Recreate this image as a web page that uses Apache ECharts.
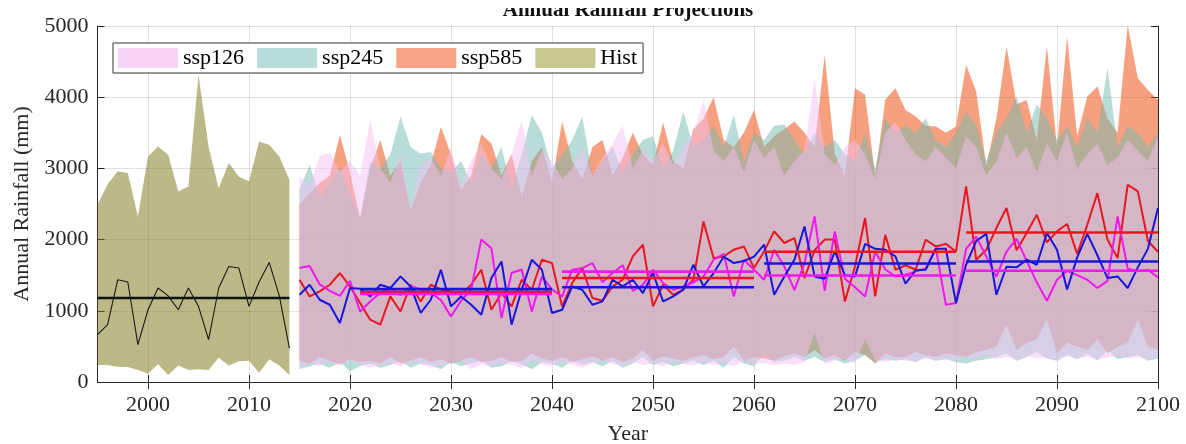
<!DOCTYPE html>
<html><head><meta charset="utf-8">
<script src="https://cdn.jsdelivr.net/npm/echarts@6/dist/echarts.min.js"></script>
<style>html,body{margin:0;padding:0;background:#fff}#c{width:1186px;height:444px}</style>
</head><body><div id="c"></div>
<script>
// ---------------- DATA ----------------
const HIST_START = 1995, HIST_END = 2014;
const FUT_START = 2015, FUT_END = 2100;
const xTickValues = [2000, 2010, 2020, 2030, 2040, 2050, 2060, 2070, 2080, 2090, 2100];
const legendNames = ['ssp126', 'ssp245', 'ssp585', 'Hist'];

// historical (1995-2014)
const histLine = [664, 805, 1436, 1405, 524, 1015, 1320, 1210, 1015, 1320, 1062, 594, 1320, 1623, 1600, 1062, 1405, 1680, 1210, 477];
const histMax  = [2490, 2777, 2960, 2937, 2325, 3167, 3308, 3190, 2676, 2746, 4314, 3300, 2720, 3075, 2881, 2818, 3378, 3332, 3167, 2840];
const histMin  = [240, 240, 215, 210, 170, 120, 250, 100, 230, 170, 180, 170, 340, 230, 290, 300, 130, 320, 230, 100];
const histMean = 1180;

// projections (2015-2100)
const ssp585Line = [
  1436, 1202, 1272, 1366, 1530, 1342, 1110, 875, 805, 1202,
  991, 1366, 1132, 1366, 1300, 1272, 1225, 1366, 1577, 1015,
  1250, 1062, 1436, 1296, 1717, 1670, 1062, 1390, 1600, 1179,
  1142, 1342, 1436, 1764, 1928, 1062, 1366, 1225, 1300, 1436,
  2255, 1740, 1764, 1857, 1904, 1600, 1834, 2115, 1952, 2022,
  1460, 1850, 2000, 2000, 1132, 1623, 2303, 1202, 2068, 1577,
  1640, 1577, 1998, 1904, 1940, 1830, 2746, 1717, 1857, 2162,
  2443, 1850, 2092, 2349, 1960, 2115, 2220, 1800, 2209, 2653,
  2000, 1740, 2770, 2677, 1980, 1830];
const ssp245Line = [
  1225, 1366, 1155, 1085, 828, 1320, 1310, 1200, 1366, 1320,
  1483, 1342, 969, 1155, 1577, 1062, 1202, 1085, 945, 1460,
  1693, 805, 1296, 1717, 1577, 969, 1015, 1342, 1296, 1085,
  1132, 1436, 1342, 1436, 1249, 1530, 1132, 1202, 1296, 1647,
  1342, 1530, 1760, 1670, 1700, 1760, 1928, 1225, 1483, 1717,
  2185, 1483, 1450, 1834, 1500, 1483, 1940, 1870, 1857, 1764,
  1380, 1570, 1577, 1870, 1870, 1109, 1650, 1980, 2080, 1225,
  1620, 1610, 1717, 1647, 2092, 1857, 1300, 1750, 2080, 1780,
  1460, 1483, 1320, 1610, 1870, 2443];
const ssp126Line = [
  1600, 1630, 1370, 1280, 1210, 1420, 990, 1130, 1250, 1320,
  1220, 1350, 1300, 1250, 1150, 920, 1140, 1300, 2000, 1880,
  900, 1530, 1580, 990, 1480, 1300, 1200, 1577, 1600, 1670,
  1400, 1530, 1640, 1280, 1366, 1577, 1390, 1296, 1342, 1400,
  1483, 1717, 1800, 1202, 1717, 1577, 1436, 1857, 1623, 1290,
  1670, 2326, 1280, 2115, 1450, 1330, 1202, 1834, 1580, 1483,
  1506, 1550, 1600, 1880, 1085, 1109, 1870, 2040, 1764, 1480,
  1830, 2010, 1700, 1400, 1140, 1436, 1560, 1500, 1436, 1320,
  1420, 2326, 1590, 1560, 1577, 1470];

const ssp585Max = [
  2500, 2650, 2800, 2900, 3470, 2950, 2300, 3000, 3400, 2900,
  3100, 2400, 2800, 3050, 3580, 3200, 2700, 2900, 3480, 3350,
  2900, 3200, 2600, 3100, 3300, 2800, 3660, 3100, 2850, 3300,
  3400, 2900, 3150, 3500, 3200, 3050, 3640, 3100, 3000, 3550,
  3700, 4000, 3400, 3300, 3500, 3820, 3300, 3450, 3550, 3660,
  3500, 3300, 4595, 3200, 2900, 4127, 4033, 2890, 3963, 4127,
  3820, 3730, 3600, 3590, 3500, 3590, 4455, 4080, 3030, 3700,
  4712, 3900, 3960, 3400, 4712, 3300, 4852, 3450, 4010, 4150,
  3700, 3500, 5016, 4267, 4100, 3960];
const ssp245Max = [
  2700, 3050, 2600, 2800, 3000, 2650, 2300, 3100, 3000, 3200,
  3730, 3300, 3210, 3230, 3000, 2950, 3100, 2800, 3200, 3000,
  3300, 2700, 3200, 3750, 3500, 3000, 3200, 3400, 3730, 2900,
  3100, 3300, 2950, 3200, 3400, 3450, 3000, 3250, 3800, 3300,
  3400, 3600, 3300, 3750, 3100, 3500, 3400, 3600, 3615, 3400,
  3200, 3500, 3300, 3400, 3200, 3100, 3500, 3000, 3700, 3500,
  3600, 3500, 3700, 3400, 3300, 3500, 3800, 3600, 3100, 3500,
  3700, 4010, 3500, 3900, 3700, 3400, 3600, 3300, 3700, 3500,
  4409, 3300, 3600, 3500, 3300, 3500];
const ssp126Max = [
  2890, 2750, 3170, 3220, 2950, 3100, 2900, 3680, 3000, 2800,
  3200, 2400, 3050, 3150, 2900, 3300, 2750, 3100, 3350, 3000,
  2850, 3200, 3680, 2900, 3250, 3100, 2850, 3000, 3300, 2900,
  3150, 3350, 3600, 3000, 3250, 3100, 3350, 3050, 3300, 3500,
  3960, 3250, 3100, 3300, 2950, 3400, 3150, 3300, 2900, 3100,
  3250, 4267, 3200, 3050, 3300, 3400, 3200, 2850, 3500, 3650,
  3400, 3200, 3100, 3300, 3150, 3000, 3450, 3300, 2900, 3100,
  3500, 3150, 3300, 2950, 3350, 3100, 3500, 3000, 3200, 3350,
  3050, 3150, 3400, 3250, 3100, 3450];

const ssp585Min = [
  300, 260, 350, 300, 250, 320, 280, 300, 260, 350,
  260, 300, 350, 280, 320, 260, 300, 350, 280, 300,
  350, 280, 300, 400, 330, 300, 350, 280, 320, 360,
  300, 350, 280, 330, 450, 300, 360, 330, 300, 350,
  380, 320, 350, 500, 300, 350, 330, 300, 360, 400,
  350, 450, 330, 380, 300, 420, 380, 260, 400, 350,
  350, 420, 380, 350, 400, 380, 350, 420, 450, 500,
  800, 450, 550, 600, 880, 400, 550, 500, 450, 600,
  400, 500, 550, 875, 500, 450];
const ssp245Min = [
  180, 220, 260, 200, 280, 150, 220, 260, 200, 240,
  300, 200, 260, 240, 180, 280, 220, 260, 300, 200,
  220, 300, 250, 180, 280, 260, 200, 300, 240, 280,
  220, 300, 200, 260, 350, 240, 280, 220, 260, 300,
  240, 300, 200, 350, 260, 220, 400, 280, 300, 350,
  300, 350, 280, 320, 260, 300, 380, 280, 320, 300,
  320, 280, 350, 300, 320, 280, 260, 300, 320, 350,
  400, 300, 350, 420, 330, 300, 380, 320, 400, 300,
  450, 320, 350, 380, 300, 330];
const ssp126Min = [
  200, 250, 220, 280, 230, 300, 250, 200, 240, 260,
  220, 280, 250, 200, 230, 260, 300, 180, 250, 220,
  260, 240, 200, 300, 250, 220, 280, 240, 200, 260,
  300, 250, 230, 280, 240, 260, 220, 300, 250, 230,
  280, 240, 260, 220, 300, 250, 270, 230, 260, 240,
  280, 690, 250, 300, 320, 260, 600, 300, 280, 320,
  300, 280, 330, 300, 320, 300, 350, 330, 380, 320,
  350, 320, 360, 330, 340, 300, 360, 330, 350, 320,
  340, 370, 330, 350, 320, 360];

// 20-year period means
const periodStart = [2021, 2041, 2061, 2081];
const periodEnd   = [2040, 2060, 2080, 2100];
const ssp585Mean = [1265, 1460, 1830, 2100];
const ssp245Mean = [1305, 1330, 1665, 1693];
const ssp126Mean = [1235, 1550, 1495, 1563];

// ---------------- BUILD ----------------
const FONT = '"Liberation Serif", "Times New Roman", serif';
const AX = '#262626';
const histYears = [], futYears = [];
for (let y = HIST_START; y <= HIST_END; y++) histYears.push(y);
for (let y = FUT_START; y <= FUT_END; y++) futYears.push(y);

// shaded min-max band drawn as one polygon through the axis scales
function band(name, years, mins, maxs, fill, legendColor) {
  return {
    name: name, type: 'custom', coordinateSystem: 'cartesian2d',
    data: [[years[0], mins[0]]], encode: { x: 0, y: 1 },
    itemStyle: { color: legendColor }, silent: true, z: 1, clip: true,
    renderItem: function (params, api) {
      const pts = [];
      for (let i = 0; i < years.length; i++) pts.push(api.coord([years[i], maxs[i]]));
      for (let i = years.length - 1; i >= 0; i--) pts.push(api.coord([years[i], mins[i]]));
      return { type: 'polygon', shape: { points: pts }, style: { fill: fill, stroke: null } };
    }
  };
}
function line(name, years, vals, color, width, z) {
  return { name: name, type: 'line', data: years.map((y, i) => [y, vals[i]]), symbol: 'none',
    lineStyle: { color: color, width: width }, itemStyle: { color: color }, silent: true, z: z };
}
function means(name, vals, color) {
  return periodStart.map((s, i) => ({ name: name + ' mean ' + i, type: 'line',
    data: [[s, vals[i]], [periodEnd[i], vals[i]]], symbol: 'none',
    lineStyle: { color: color, width: 2.6 }, silent: true, z: 5 }));
}

const RED = '#E8161E', BLUE = '#1616DC', MAG = '#F018F0';
const series = [].concat(
  [band('Hist', histYears, histMin, histMax, 'rgba(125,123,28,0.53)', '#C8C78E'),
   band('ssp585', futYears, ssp585Min, ssp585Max, 'rgba(239,65,0,0.5)', '#F8A385'),
   band('ssp245', futYears, ssp245Min, ssp245Max, 'rgba(113,185,177,0.5)', '#BADCD8'),
   band('ssp126', futYears, ssp126Min, ssp126Max, 'rgba(245,192,245,0.5)', '#F8D3F8'),
   line('hist annual', histYears, histLine, '#1a1a1a', 1.1, 3),
   { name: 'hist mean', type: 'line', data: [[HIST_START, histMean], [HIST_END, histMean]], symbol: 'none',
     lineStyle: { color: '#111', width: 2.6 }, silent: true, z: 4 },
   line('ssp585 annual', futYears, ssp585Line, RED, 2, 3),
   line('ssp126 annual', futYears, ssp126Line, MAG, 2, 3),
   line('ssp245 annual', futYears, ssp245Line, BLUE, 2, 3)],
  means('ssp585', ssp585Mean, RED),
  means('ssp126', ssp126Mean, MAG),
  means('ssp245', ssp245Mean, BLUE)
);

const plain = v => String(v);
const chart = echarts.init(document.getElementById('c'), null, { renderer: 'canvas' });
chart.setOption({
  animation: false,
  backgroundColor: '#fff',
  grid: { left: 97.5, right: 28, top: 26, bottom: 62, outerBoundsMode: 'none', containLabel: false },
  legend: {
    data: legendNames.map(n => ({ name: n, icon: 'rect' })),
    left: 113, top: 43, orient: 'horizontal',
    itemWidth: 60, itemHeight: 20, itemGap: 13,
    padding: [4, 6, 4, 5],
    borderColor: '#333', borderWidth: 1, backgroundColor: '#fff',
    textStyle: { fontFamily: FONT, fontSize: 22, color: '#000' },
    selectedMode: false
  },
  xAxis: [{
    type: 'value', min: HIST_START, max: FUT_END, position: 'bottom',
    axisLine: { show: true, lineStyle: { color: AX, width: 1 } },
    axisTick: { show: true, inside: true, length: 7, customValues: xTickValues, lineStyle: { color: AX } },
    axisLabel: { customValues: xTickValues, formatter: plain, fontFamily: FONT, fontSize: 22, color: AX, margin: 12 },
    splitLine: { show: true, lineStyle: { color: 'rgba(0,0,0,0.12)', width: 1 } },
    name: 'Year', nameLocation: 'middle', nameGap: 41,
    nameTextStyle: { fontFamily: FONT, fontSize: 22, color: AX }
  }, {
    type: 'value', min: HIST_START, max: FUT_END, position: 'top',
    axisLine: { show: true, lineStyle: { color: AX, width: 1 } },
    axisTick: { show: true, inside: true, length: 7, customValues: xTickValues, lineStyle: { color: AX } },
    axisLabel: { show: false }, splitLine: { show: false }
  }],
  yAxis: [{
    type: 'value', min: 0, max: 5000, interval: 1000, position: 'left',
    axisLine: { show: true, lineStyle: { color: AX, width: 1 } },
    axisTick: { show: true, inside: true, length: 7, lineStyle: { color: AX } },
    axisLabel: { formatter: plain, fontFamily: FONT, fontSize: 22, color: AX, margin: 9 },
    splitLine: { show: true, lineStyle: { color: 'rgba(0,0,0,0.12)', width: 1 } },
    name: 'Annual Rainfall (mm)', nameLocation: 'middle', nameGap: 61,
    nameTextStyle: { fontFamily: FONT, fontSize: 22, color: AX }
  }, {
    type: 'value', min: 0, max: 5000, interval: 1000, position: 'right',
    axisLine: { show: true, lineStyle: { color: AX, width: 1 } },
    axisTick: { show: true, inside: true, length: 7, lineStyle: { color: AX } },
    axisLabel: { show: false }, splitLine: { show: false }
  }],
  graphic: [
    { type: 'text', x: 628, y: 10.5, z: 10,
      style: { text: 'Annual Rainfall Projections', align: 'center', verticalAlign: 'middle',
               font: 'bold 21px "Liberation Serif", serif', fill: '#111' } },
    { type: 'rect', shape: { x: 300, y: 0, width: 660, height: 8 }, z: 11,
      style: { fill: '#fff' }, silent: true }
  ],
  series: series
});
</script></body></html>
